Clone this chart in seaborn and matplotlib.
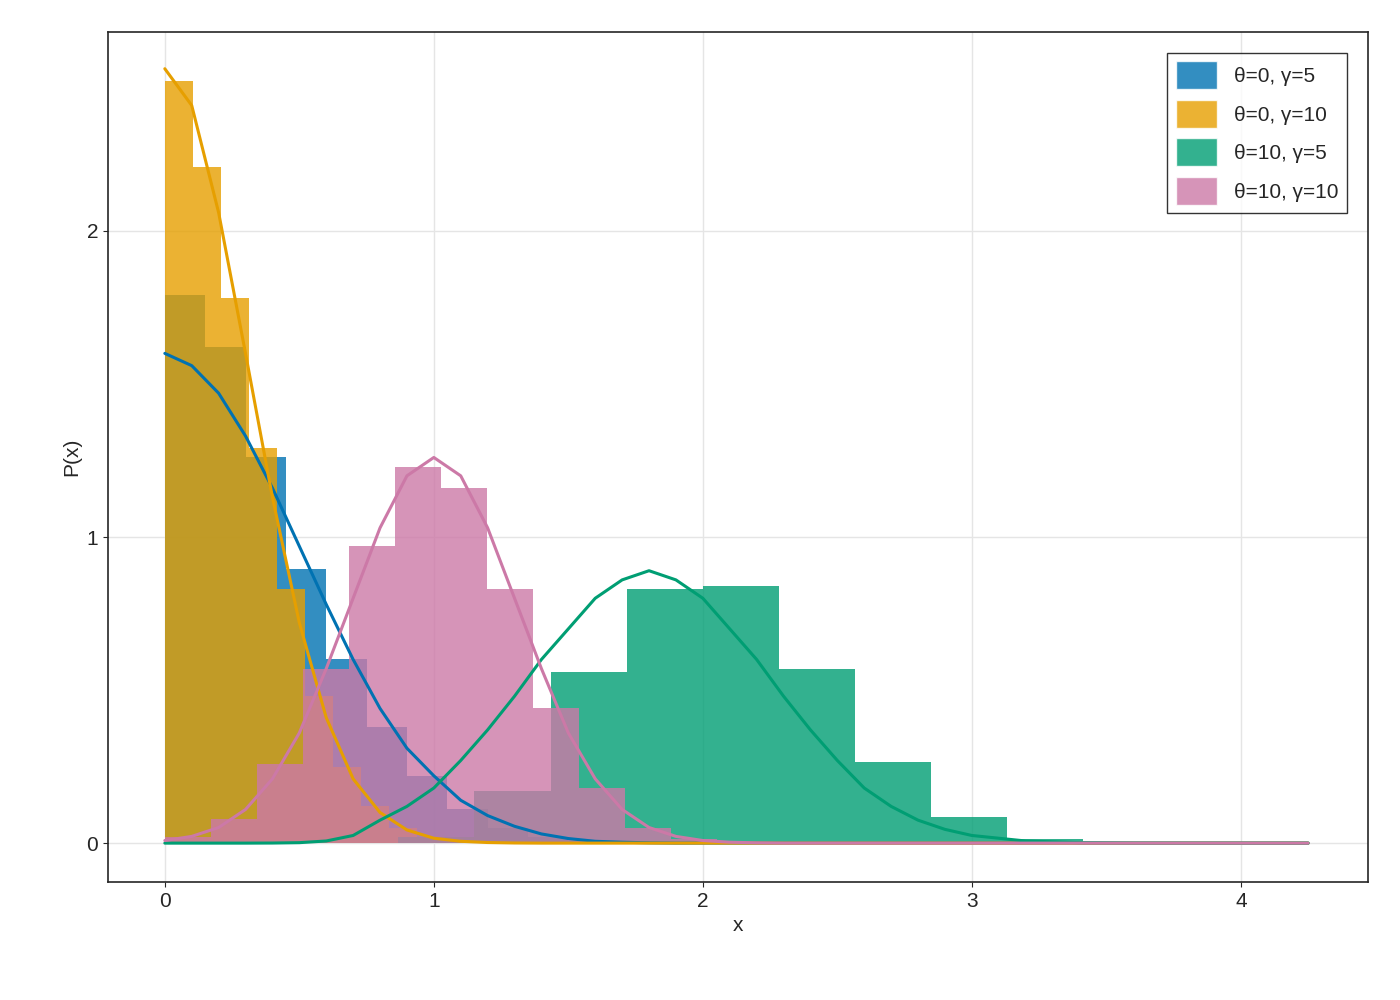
import numpy as np
import pandas as pd
import matplotlib
matplotlib.use("Agg")
import matplotlib.pyplot as plt
import seaborn as sns
from matplotlib.patches import Patch

sns.set_style("ticks")
plt.rcParams['font.family'] = ['Liberation Sans', 'DejaVu Sans']

labels = ["θ=0, γ=5", "θ=0, γ=10", "θ=10, γ=5", "θ=10, γ=10"]
colors = ["#0072B2", "#E69F00", "#009E73", "#CC79A7"]

# histogram bar heights (density)
blue_h = [1.79, 1.62, 1.26, 0.895, 0.60, 0.38, 0.22, 0.11, 0.05, 0.02, 0.008, 0.003, 0.0]
orange_h = [2.49, 2.21, 1.78, 1.29, 0.83, 0.48, 0.25, 0.12, 0.05, 0.02, 0.008, 0.003, 0.001]
green_h = [0.0, 0.0, 0.001, 0.02, 0.17, 0.56, 0.83, 0.84, 0.57, 0.265, 0.085, 0.015, 0.003, 0.001, 0.0]
pink_h = [0.02, 0.08, 0.26, 0.57, 0.97, 1.23, 1.16, 0.83, 0.44, 0.18, 0.05, 0.015,
          0.004, 0.001, 0.0, 0.0, 0.0, 0.0, 0.0, 0.0, 0.0, 0.0, 0.0, 0.0, 0.0]
# bin layout (start, width)
bins_layout = [(0.0, 0.15), (0.0, 0.104), (0.019, 0.283), (0.0, 0.171)]

# density curves
curve_x = [0.0, 0.1, 0.2, 0.3, 0.4, 0.5, 0.6, 0.7, 0.8, 0.9, 1.0, 1.1, 1.2, 1.3, 1.4, 1.5,
           1.6, 1.7, 1.8, 1.9, 2.0, 2.1, 2.2, 2.3, 2.4, 2.5, 2.6, 2.7, 2.8, 2.9, 3.0,
           3.2, 3.4, 3.6, 3.8, 4.0, 4.25]
blue_c = [1.60, 1.56, 1.47, 1.33, 1.16, 0.97, 0.78, 0.60, 0.44, 0.31, 0.22, 0.14, 0.09, 0.055,
          0.03, 0.015, 0.006, 0.003, 0.001, 0, 0, 0, 0, 0, 0, 0, 0, 0, 0, 0, 0, 0, 0, 0, 0, 0, 0]
orange_c = [2.53, 2.41, 2.06, 1.60, 1.13, 0.72, 0.41, 0.21, 0.10, 0.043, 0.016, 0.006, 0.002,
            0.0005, 0, 0, 0, 0, 0, 0, 0, 0, 0, 0, 0, 0, 0, 0, 0, 0, 0, 0, 0, 0, 0, 0, 0]
green_c = [0, 0, 0, 0, 0.0003, 0.0015, 0.007, 0.025, 0.075, 0.12, 0.18, 0.27, 0.37, 0.48,
           0.60, 0.70, 0.80, 0.86, 0.89, 0.86, 0.80, 0.70, 0.60, 0.48, 0.37, 0.27, 0.18,
           0.12, 0.075, 0.045, 0.025, 0.007, 0.0015, 0.0003, 0, 0, 0]
pink_c = [0.0085, 0.022, 0.051, 0.11, 0.21, 0.36, 0.57, 0.80, 1.03, 1.20, 1.26, 1.20, 1.03,
          0.80, 0.57, 0.36, 0.21, 0.11, 0.051, 0.022, 0.0085, 0.003, 0.001, 0, 0, 0, 0, 0,
          0, 0, 0, 0, 0, 0, 0, 0, 0]

fig, ax = plt.subplots(figsize=(14, 10), dpi=100)
fig.subplots_adjust(left=0.077, right=0.977, top=0.968, bottom=0.118)

heights = [blue_h, orange_h, green_h, pink_h]
curves = [blue_c, orange_c, green_c, pink_c]
for h, (s, w), c in zip(heights, bins_layout, colors):
    edges = s + w * np.arange(len(h) + 1)
    centers = (edges[:-1] + edges[1:]) / 2
    df = pd.DataFrame({"x": centers, "w": np.asarray(h, dtype=float)})
    sns.histplot(data=df, x="x", weights="w", bins=list(edges), stat="count", ax=ax,
                 color=c, alpha=0.8, edgecolor="none", linewidth=0)
for cv, c in zip(curves, colors):
    sns.lineplot(x=curve_x, y=cv, ax=ax, color=c, linewidth=2.2)

ax.set_xlim(-0.212, 4.472)
ax.set_ylim(-0.127, 2.65)
ax.set_xticks([0, 1, 2, 3, 4])
ax.set_yticks([0, 1, 2])
ax.grid(True, color="#e5e5e5", linewidth=1)
ax.set_axisbelow(True)
ax.set_xlabel("x", fontsize=15)
ax.set_ylabel("P(x)", fontsize=15)
ax.tick_params(labelsize=15)
for sp in ax.spines.values():
    sp.set_linewidth(1.2)

handles = [Patch(facecolor=c, alpha=0.8, label=l) for c, l in zip(colors, labels)]
ax.legend(handles=handles, loc="upper right", fontsize=15, frameon=True, fancybox=False,
          edgecolor="black", handlelength=2.0, handleheight=1.7, borderaxespad=1.0)
fig.savefig("out.png")
